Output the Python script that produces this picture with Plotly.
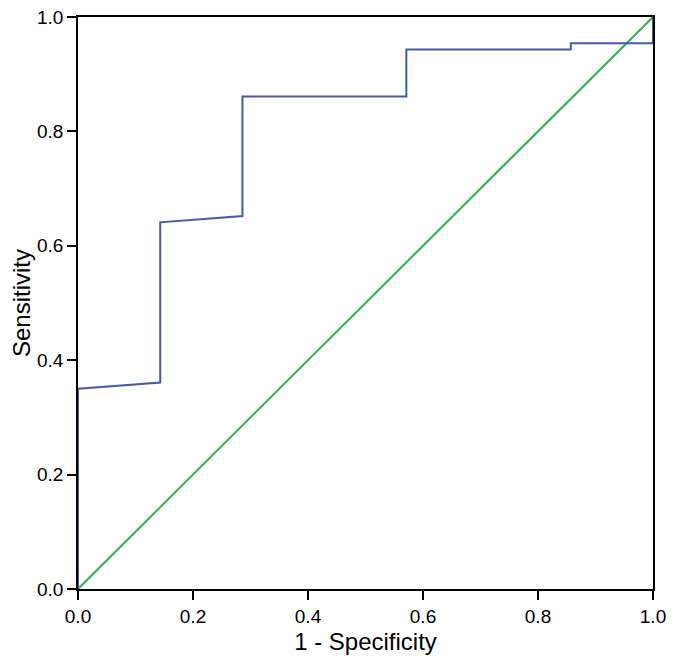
import plotly.graph_objects as go

# ROC curve
fpr = [0.0, 0.0, 0.143, 0.143, 0.286, 0.286, 0.571, 0.571, 0.857, 0.857, 1.0, 1.0]
tpr = [0.0, 0.35, 0.361, 0.641, 0.652, 0.861, 0.861, 0.943, 0.943, 0.954, 0.954, 1.0]
ref_x = [0.0, 1.0]
ref_y = [0.0, 1.0]
ticks = [0.0, 0.2, 0.4, 0.6, 0.8, 1.0]
tick_text = ["0.0", "0.2", "0.4", "0.6", "0.8", "1.0"]

fig = go.Figure()
fig.add_trace(go.Scatter(x=ref_x, y=ref_y, mode="lines",
                         line=dict(color="#2DB34A", width=2), showlegend=False))
fig.add_trace(go.Scatter(x=fpr, y=tpr, mode="lines",
                         line=dict(color="#3F5BA9", width=2), showlegend=False))

axis = dict(range=[0, 1], tickvals=ticks, ticktext=tick_text, ticks="outside",
            ticklen=9, tickwidth=1.5, tickcolor="black", showline=True,
            linecolor="black", linewidth=1.5, mirror=True, showgrid=False,
            zeroline=False, automargin=False, ticklabeloverflow="allow",
            tickfont=dict(size=19, color="black"))

fig.update_xaxes(**axis, title=dict(text="1 - Specificity", font=dict(size=24, color="black"), standoff=10))
fig.update_yaxes(**axis, title=dict(text="Sensitivity", font=dict(size=24, color="black"), standoff=23))

# page body adds 8px all round, keep the figure inside the window
fig.update_layout(
    width=659, height=647,
    margin=dict(l=70, r=14, t=9, b=66),
    plot_bgcolor="white", paper_bgcolor="white",
    font=dict(family="Liberation Sans, Arial", color="black"),
)
fig.write_html("out.html")
